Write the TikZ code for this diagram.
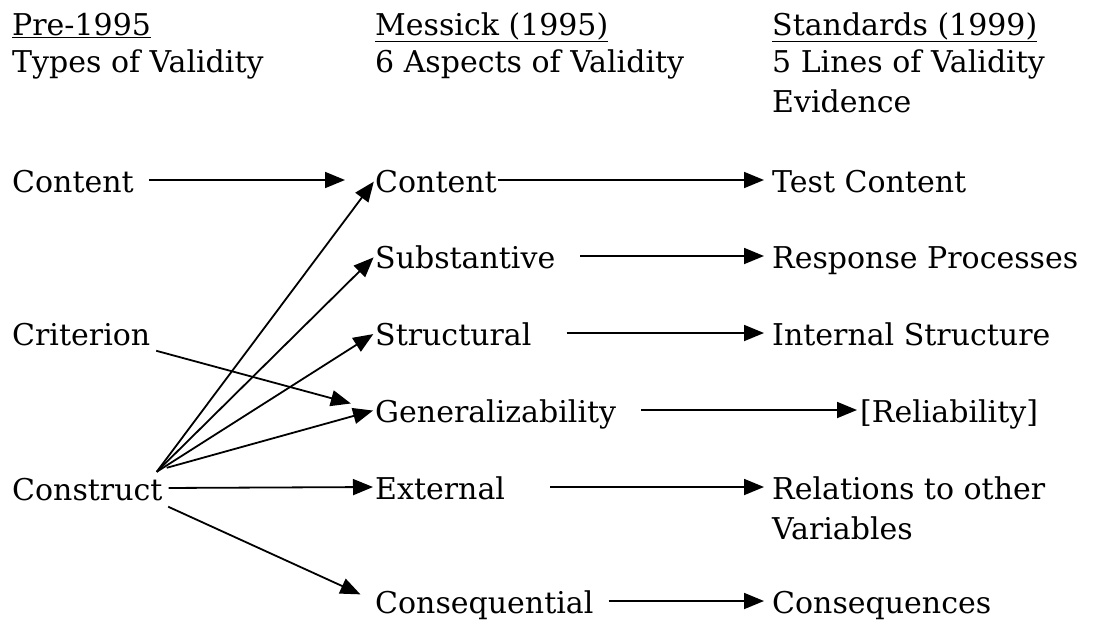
\documentclass[tikz,border=0pt]{standalone}
\usepackage{fontspec}
\setmainfont{DejaVu Serif}
\usetikzlibrary{arrows.meta}
\begin{document}
\begin{tikzpicture}[x=1pt,y=-1pt,
    every node/.style={anchor=base west,inner sep=0pt,text height=28pt,text depth=4pt,
      font=\fontsize{30}{36}\selectfont},
    arr/.style={-{Triangle[length=20pt,width=16pt]},line width=1.8pt}]
    \useasboundingbox (0,0) rectangle (1107,624);
    % headings
    \node (pre) at (12,35) {\underline{Pre-1995}};
    \node (types) at (12,72) {Types of Validity};
    \node (messick) at (375,35) {\underline{Messick (1995)}};
    \node (aspects) at (375,72) {6 Aspects of Validity};
    \node (standards) at (772,35) {\underline{Standards (1999)}};
    \node (lines) at (772,72) {5 Lines of Validity};
    \node (evidence) at (772,112) {Evidence};
    % left column
    \node (content) at (12,192) {Content};
    \node (criterion) at (12,345) {Criterion};
    \node (construct) at (12,500) {Construct};
    % middle column
    \node (content2) at (375,192) {Content};
    \node (subst) at (375,268) {Substantive};
    \node (struct) at (375,345) {Structural};
    \node (gen) at (375,422) {Generalizability};
    \node (ext) at (375,499) {External};
    \node (conseq) at (375,613) {Consequential};
    % right column
    \node (test) at (772,192) {Test Content};
    \node (resp) at (772,268) {Response Processes};
    \node (internal) at (772,345) {Internal Structure};
    \node (rel) at (860,422) {[Reliability]};
    \node (relations) at (772,499) {Relations to other};
    \node (variables) at (772,539) {Variables};
    \node (conseqs) at (772,613) {Consequences};
    % arrows
    \draw[arr,shorten <=15pt,shorten >=30pt] (content) -- (content2);
    \draw[arr,shorten <=6pt,shorten >=25pt] (criterion.south east) -- (gen.west);
    \foreach \t in {content2,subst,struct}
    \draw[arr,shorten >=2pt] ([xshift=-6pt]construct.north east) -- (\t.west);
    \draw[arr,shorten >=2pt] ([xshift=4pt,yshift=4pt]construct.north east) -- (gen.west);
    \draw[arr,shorten <=6pt,shorten >=2pt] (construct.east) -- (ext.west);
    \draw[arr,shorten <=6pt,shorten >=16pt] (construct.south east) -- (conseq.west);
    \foreach \a/\b/\g/\s in {content2/test/1/8,subst/resp/25/8,struct/internal/35/8,
      gen/rel/25/3,ext/relations/45/8,conseq/conseqs/15/8}
    \draw[arr,shorten <=\g pt,shorten >=\s pt] (\a.east) -- (\b.west);
  \end{tikzpicture}
\end{document}
